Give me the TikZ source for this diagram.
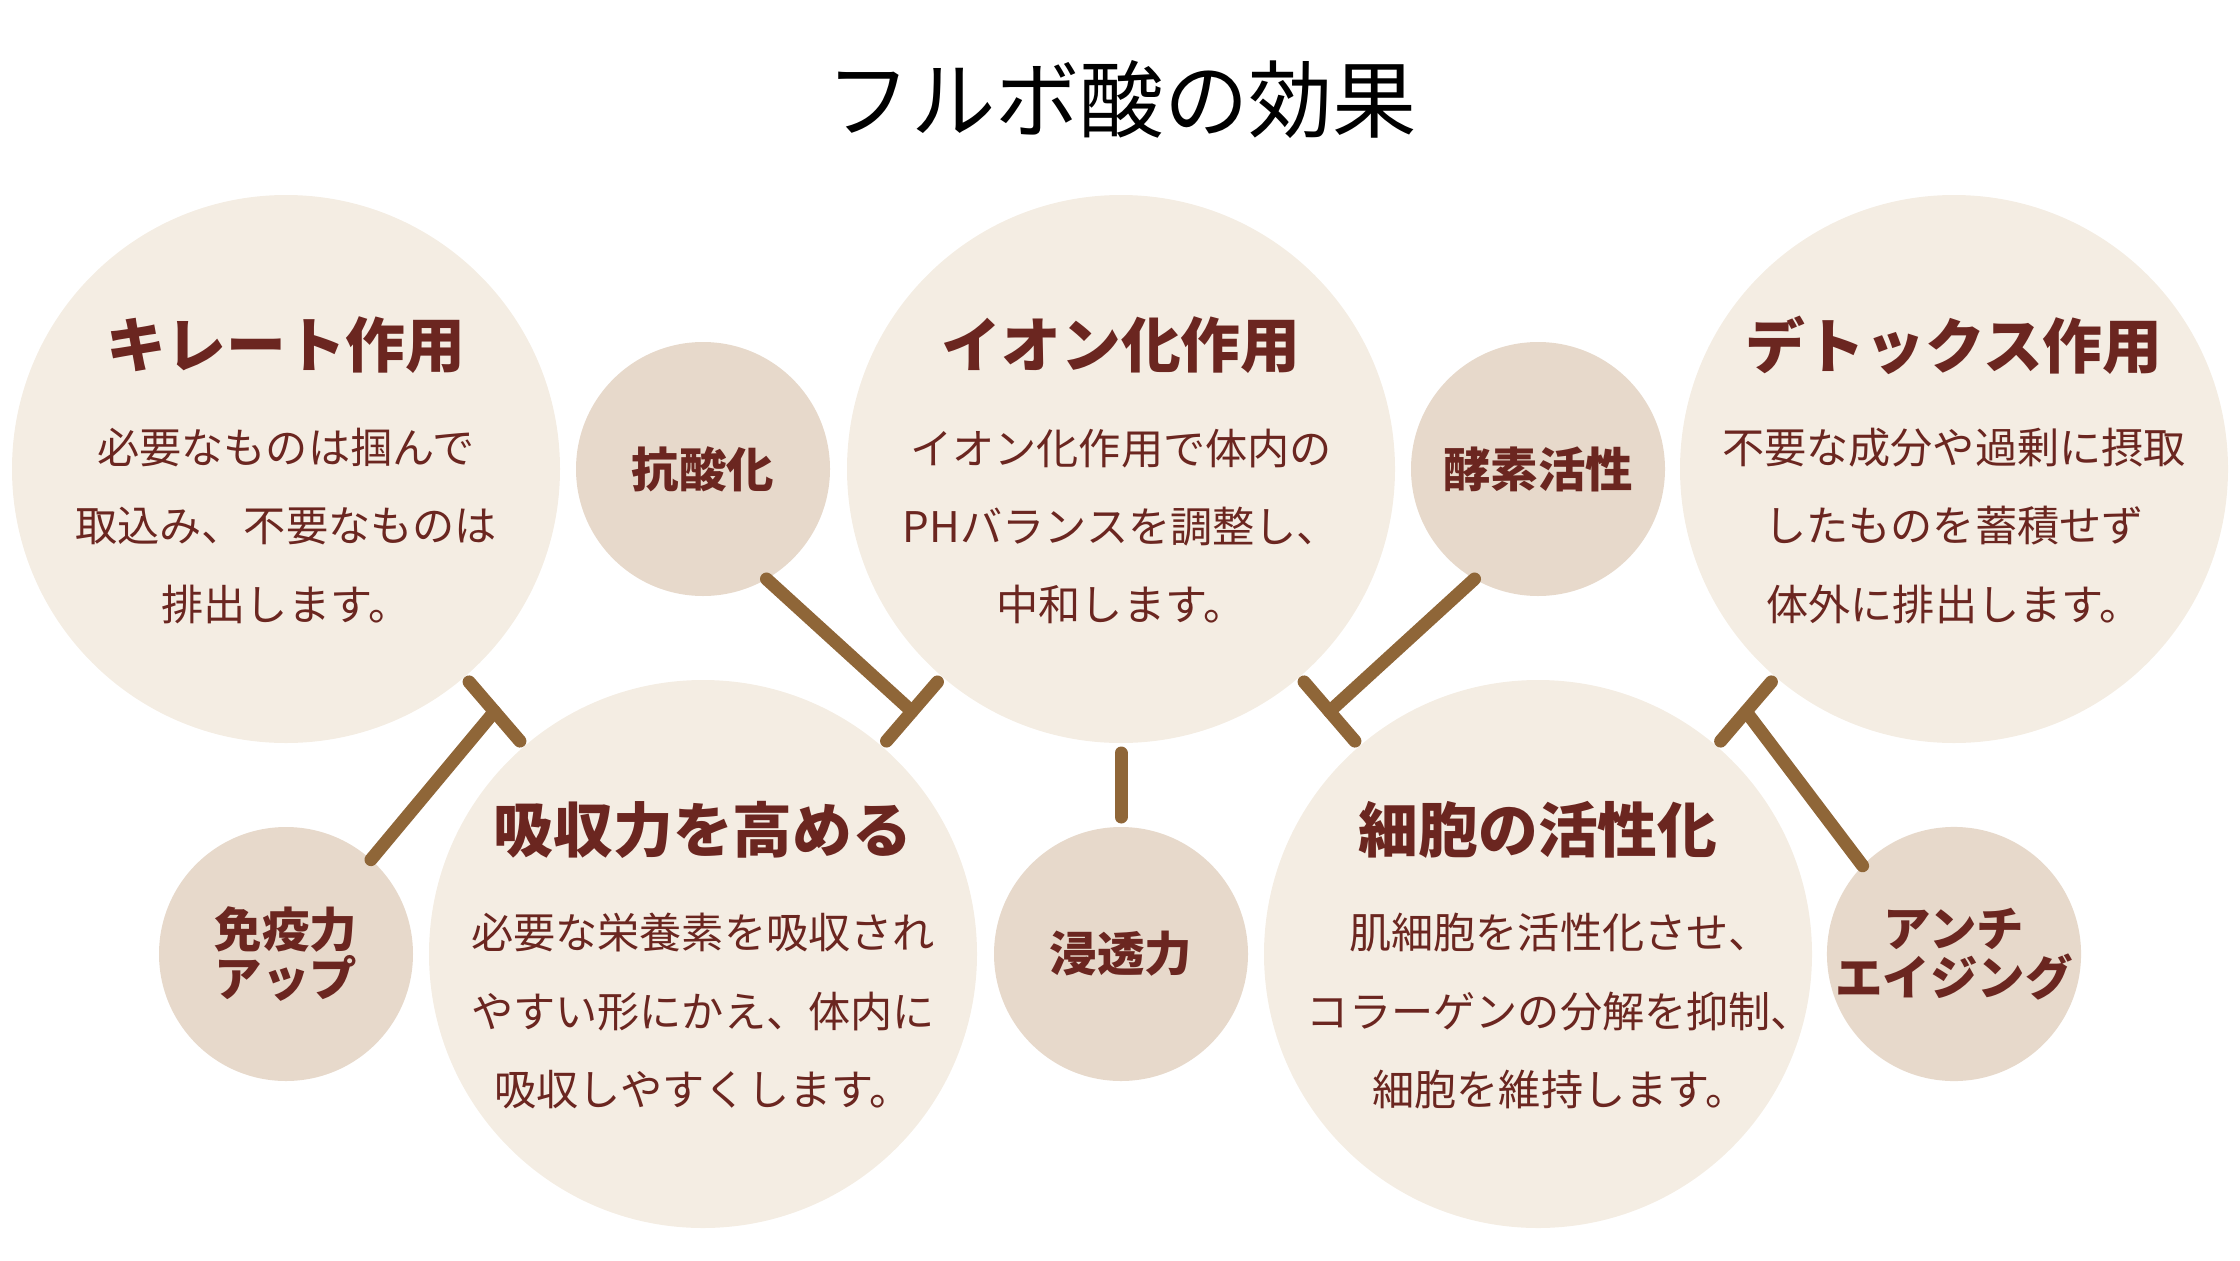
\documentclass[tikz,border=0pt]{standalone}
\usepackage{fontspec}
\setmainfont{Noto Sans CJK JP}
\usetikzlibrary{calc}
\definecolor{cream}{HTML}{F4EDE3}
\definecolor{beige}{HTML}{E7D9CB}
\definecolor{stick}{HTML}{8F6638}
\definecolor{txtbrown}{HTML}{6B2620}

\begin{document}
\begin{tikzpicture}[bigc/.style={circle,fill=cream,minimum size=5.48cm,inner sep=0pt,outer sep=0pt},
  smallc/.style={circle,fill=beige,minimum size=2.54cm,inner sep=0pt,outer sep=0pt,text=txtbrown,align=center,font=\fontsize{13.5}{12.5}\selectfont\bfseries},
  head/.style={text=txtbrown,font=\fontsize{17}{20}\selectfont\bfseries},
  body/.style={text=txtbrown,align=center,font=\fontsize{12}{22.2}\selectfont},
  stem/.style={draw=stick,line width=3.7pt,line cap=round}]

\useasboundingbox (0,0) rectangle (22.4,12.6);

\node (title) at (11.22,11.6) {\fontsize{24}{28}\selectfont フルボ酸の効果};

% big circles
\node[bigc] (chel) at (2.86,7.91) {};
\node[bigc] (ion) at (11.21,7.91) {};
\node[bigc] (detox) at (19.54,7.91) {};
\node[bigc] (absorb) at (7.03,3.06) {};
\node[bigc] (cell) at (15.38,3.06) {};

% small circles
\node[smallc] (antiox) at (7.03,7.91) {抗酸化};
\node[smallc] (enzyme) at (15.38,7.91) {酵素活性};
\node[smallc] (immune) at (2.86,3.06) {免疫力\\アップ};
\node[smallc] (pene) at (11.21,3.06) {浸透力};
\node[smallc] (aging) at (19.54,3.06) {アンチ\\エイジング};

% texts
\node[head] (chelh) at ([yshift=1.24cm]chel.center) {キレート作用};
\node[body] (chelb) at ([yshift=-0.57cm]chel.center) {必要なものは掴んで\\取込み、不要なものは\\排出します。};
\node[head] (ionh) at ([yshift=1.24cm]ion.center) {イオン化作用};
\node[body] (ionb) at ([yshift=-0.57cm]ion.center) {イオン化作用で体内の\\PHバランスを調整し、\\中和します。};
\node[head] (detoxh) at ([yshift=1.24cm]detox.center) {デトックス作用};
\node[body] (detoxb) at ([yshift=-0.57cm]detox.center) {不要な成分や過剰に摂取\\したものを蓄積せず\\体外に排出します。};
\node[head] (absorbh) at ([yshift=1.24cm]absorb.center) {吸収力を高める};
\node[body] (absorbb) at ([yshift=-0.57cm]absorb.center) {必要な栄養素を吸収され\\やすい形にかえ、体内に\\吸収しやすくします。};
\node[head] (cellh) at ([yshift=1.24cm]cell.center) {細胞の活性化};
\node[body] (cellb) at ([xshift=0.22cm,yshift=-0.57cm]cell.center) {肌細胞を活性化させ、\\コラーゲンの分解を抑制、\\細胞を維持します。};

% junctions between big circles
\coordinate (jA) at ($(chel)!0.5!(absorb)$);
\coordinate (jB) at ($(absorb)!0.5!(ion)$);
\coordinate (jC) at ($(ion)!0.5!(cell)$);
\coordinate (jD) at ($(cell)!0.5!(detox)$);

\draw[stem] (immune.48) -- (jA);
\draw[stem] ($(jA)!0.39cm!(chel)$) -- ($(jA)!0.39cm!(absorb)$);
\draw[stem] (antiox.-60) -- (jB);
\draw[stem] ($(jB)!0.39cm!(absorb)$) -- ($(jB)!0.39cm!(ion)$);
\draw[stem] (enzyme.-120) -- (jC);
\draw[stem] ($(jC)!0.39cm!(ion)$) -- ($(jC)!0.39cm!(cell)$);
\draw[stem] (aging.136) -- (jD);
\draw[stem] ($(jD)!0.39cm!(cell)$) -- ($(jD)!0.39cm!(detox)$);
\draw[stem,shorten <=0.1cm,shorten >=0.1cm] (ion) -- (pene);

\end{tikzpicture}
\end{document}
